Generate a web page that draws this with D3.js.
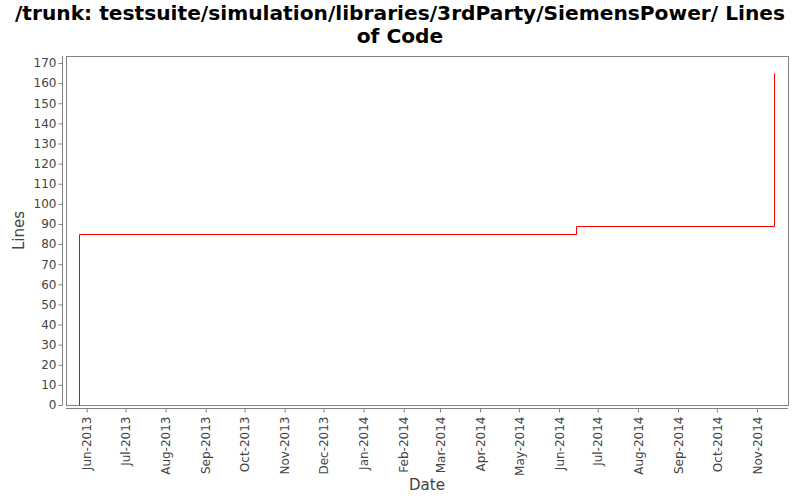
<!DOCTYPE html>
<html><head><meta charset="utf-8">
<script src="https://cdn.jsdelivr.net/npm/d3@7"></script>
<style>body{margin:0;background:#fff}svg{display:block}</style>
</head><body>
<svg id="c" width="800" height="500"></svg>
<script>
const titleLines = ["/trunk: testsuite/simulation/libraries/3rdParty/SiemensPower/ Lines", "of Code"];
const dates = ["2013-05-26", "2013-05-26", "2014-06-14", "2014-11-14"];
const values = [0, 85, 89, 165];
const xDomain = ["2013-05-16", "2014-11-25"];
const yTicks = d3.range(0, 171, 10);
const xTickMonths = ["2013-06-01","2013-07-01","2013-08-01","2013-09-01","2013-10-01","2013-11-01","2013-12-01","2014-01-01","2014-02-01","2014-03-01","2014-04-01","2014-05-01","2014-06-01","2014-07-01","2014-08-01","2014-09-01","2014-10-01","2014-11-01"];

const parse = d3.utcParse("%Y-%m-%d");
const svg = d3.select("#c");
const L = 66, R = 788, T = 56, B = 405;
const x = d3.scaleUtc().domain(xDomain.map(parse)).range([L, R]);
const y = d3.scaleLinear().domain([0, 173.5]).range([B, T]);

svg.append("rect").attr("x", L + 0.5).attr("y", T + 0.5).attr("width", R - L).attr("height", B - T)
  .attr("fill", "#fff").attr("stroke", "#808080").attr("stroke-width", 1);

const tc = "#444";
const yAxis = svg.append("g").attr("transform", `translate(${L - 3.5},0)`)
  .call(d3.axisLeft(y).tickValues(yTicks).tickSize(4).tickPadding(2));
const xAxis = svg.append("g").attr("transform", `translate(0,${B + 3.5})`)
  .call(d3.axisBottom(x).tickValues(xTickMonths.map(parse)).tickSize(4).tickFormat(d3.utcFormat("%b-%Y")));
[yAxis, xAxis].forEach(a => {
  a.select(".domain").attr("stroke", "#808080");
  a.selectAll(".tick line").attr("stroke", "#808080");
  a.selectAll("text").attr("fill", tc).style("font-family", "DejaVu Sans").style("font-size", "12px");
});
yAxis.select(".domain").attr("d", `M-0,${T}V${B}`);
xAxis.select(".domain").attr("d", `M${L},0H${R}`);
xAxis.selectAll(".tick text").attr("transform", "rotate(-90)").attr("text-anchor", "end")
  .attr("x", -8).attr("y", 0).attr("dy", "0.35em");

const data = dates.map((d, i) => ({ d: parse(d), v: values[i] }));
svg.append("path").datum(data)
  .attr("fill", "none").attr("stroke", "#ff0000").attr("stroke-width", 1)
  .attr("d", d3.line().x(d => Math.round(x(d.d)) + 0.5).y(d => Math.round(y(d.v)) + 0.5).curve(d3.curveStepAfter));

svg.append("g").selectAll("text").data(titleLines).join("text")
  .attr("x", 400).attr("y", (d, i) => 20 + i * 23).attr("text-anchor", "middle")
  .style("font-family", "DejaVu Sans").style("font-weight", "bold").style("font-size", "20.2px").attr("fill", "#000")
  .text(d => d);

svg.append("text").attr("transform", `translate(24,${(T + B) / 2}) rotate(-90)`).attr("text-anchor", "middle")
  .style("font-family", "DejaVu Sans").style("font-size", "15px").attr("fill", tc).text("Lines");
svg.append("text").attr("x", (L + R) / 2).attr("y", 490).attr("text-anchor", "middle")
  .style("font-family", "DejaVu Sans").style("font-size", "15px").attr("fill", tc).text("Date");
</script>
</body></html>
